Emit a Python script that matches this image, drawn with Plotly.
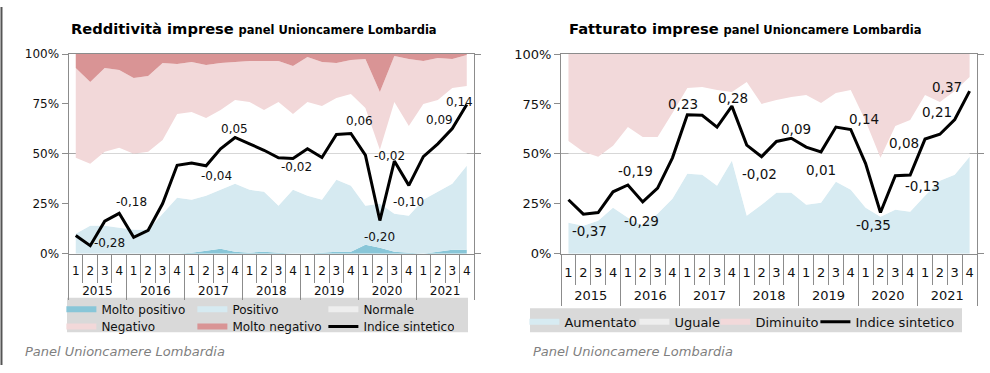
import plotly.graph_objects as go

# ---------------- DATA ----------------
years = ["2015", "2016", "2017", "2018", "2019", "2020", "2021"]
quarters = ["1", "2", "3", "4"]

# Redditività (percent shares, bottom to top)
redd_molto_pos = [0, 0, 0, 0, 0, 0, 0, 0, 0.5, 1.5, 2.5, 1, 0.5, 1, 0.5, 0, 0, 0.5, 1, 1, 4.5, 3, 1, 0.5, 0, 1, 2, 2]
redd_pos = [10, 14, 14, 13, 12, 12, 20, 28, 26.5, 27.5, 29.5, 34, 31.5, 30, 23.5, 32, 29, 26.5, 36, 33, 19.5, 22, 19, 18.5, 27, 30, 33, 42]
redd_normale = [38, 31, 37, 40, 38, 39, 37, 42, 44, 39, 40, 42, 44, 41, 52, 38, 47, 47, 41, 46, 49, 27, 56, 45, 48, 46, 48, 40]
redd_neg = [45, 41, 42, 39, 38, 38, 38.5, 25, 25, 26.5, 23.5, 19, 20.5, 24.5, 20.5, 24, 22.5, 22, 17.5, 17, 24.5, 29, 23, 33.5, 21.5, 21, 14.5, 15.5]
redd_molto_neg = [7, 14, 7, 8, 12, 11, 4.5, 5, 4, 5.5, 4.5, 4, 3.5, 3.5, 3.5, 6, 1.5, 4, 4.5, 3, 2.5, 19, 1, 2.5, 3.5, 2, 2.5, 0.5]
redd_indice = [9.1, 4, 16.3, 20.2, 8.2, 11.7, 25.1, 44.3, 45.4, 44, 52.5, 58.2, 55, 51.8, 48, 47.7,
               52.6, 48.2, 59.7, 60.2, 49.4, 16.6, 46.4, 34.2, 48.6, 55, 62.7, 74.7]
redd_lbl_idx = [1, 3, 9, 11, 15, 19, 21, 22, 23, 26, 27]
redd_lbl_txt = ["-0,28", "-0,18", "-0,04", "0,05", "-0,02", "0,06", "-0,20", "-0,02", "-0,10", "0,09", "0,14"]

# Fatturato
fatt_aum = [15.5, 14, 16.5, 23, 18, 14, 20, 27.5, 40, 39.5, 34, 46.5, 19, 24.5, 30.5, 30.5, 24.5, 25.5, 36, 32, 23, 18.5, 22, 21, 29, 36.5, 39.5, 48.5]
fatt_ugu = [41, 37, 32, 31, 45.5, 44.5, 38.5, 43, 43, 44, 48, 34.5, 67, 50.5, 46.5, 48, 55, 50, 44.5, 50, 43.5, 29.5, 42, 46, 50.5, 39.5, 42, 40]
fatt_dim = [43.5, 49, 51.5, 46, 36.5, 41.5, 41.5, 29.5, 17, 16.5, 18, 19, 14, 25, 23, 21.5, 20.5, 24.5, 19.5, 18, 33.5, 52, 36, 33, 20.5, 24, 18.5, 11.5]
fatt_indice = [27, 19.8, 20.6, 31, 34.4, 25.9, 32.8, 48, 69.6, 69.3, 63.4, 73.9, 54.4, 48.6, 56.2, 57.8,
               53.4, 51, 63.4, 62.2, 45.1, 20.6, 39, 39.4, 57.4, 59.8, 67.2, 81.4]
fatt_lbl_idx = [1, 4, 5, 8, 11, 13, 15, 17, 19, 21, 22, 23, 25, 27]
fatt_lbl_txt = ["-0,37", "-0,19", "-0,29", "0,23", "0,28", "-0,02", "0,09", "0,01", "0,14", "-0,35", "0,08", "-0,13", "0,21", "0,37"]

y_ticks = [0, 25, 50, 75, 100]
y_ticktext = ["0%", "25%", "50%", "75%", "100%"]

# ---------------- STYLE (label offsets in px) ----------------
redd_lbl_off = [(19, 3), (12, 11), (10, -10), (-1, 8), (4, -9), (9, 12), (0, -16), (-5, 5), (0, -17), (-13, 9), (-7, 3)]
fatt_lbl_off = [(6, -17), (8, 14), (-1, -19), (-4, 11), (1, 8), (-2, -17), (5, 9), (0, -18), (13, 11), (-7, -12),
                (9, 33), (12, -11), (-3, 22), (-23, 4)]

FONT = "DejaVu Sans, Verdana, sans-serif"
AX = "#8c8c8c"
nq = len(quarters)
n = len(years) * nq
x_idx = list(range(n))
q_text = [q for _ in years for q in quarters]
q_bounds = [i - 0.5 for i in range(n + 1)]
y_centers = [k * nq + (nq - 1) / 2 for k in range(len(years))]
y_bounds = [k * nq - 0.5 for k in range(len(years) + 1)]

fig = go.Figure()

def area(name, vals, color, xa, ya, group, legend):
    fig.add_trace(go.Scatter(x=x_idx, y=vals, name=name, mode="none", stackgroup=group,
                             fillcolor=color, xaxis=xa, yaxis=ya, legend=legend, hoverinfo="skip"))

# Left chart
area("Molto positivo", redd_molto_pos, "#88c6d8", "x", "y", "a", "legend")
area("Positivo", redd_pos, "#d6eaf1", "x", "y", "a", "legend")
area("Normale", redd_normale, "rgba(255,255,255,0.55)", "x", "y", "a", "legend")
area("Negativo", redd_neg, "#f2d8d9", "x", "y", "a", "legend2")
area("Molto negativo", redd_molto_neg, "#d99495", "x", "y", "a", "legend2")
fig.add_trace(go.Scatter(x=x_idx, y=redd_indice, name="Indice sintetico", mode="lines",
                         line=dict(color="black", width=3), xaxis="x3", yaxis="y3", legend="legend2"))

# Right chart
area("Aumentato", fatt_aum, "#d7ebf2", "x2", "y2", "b", "legend3")
area("Uguale", fatt_ugu, "rgba(255,255,255,0.55)", "x2", "y2", "b", "legend4")
area("Diminuito", fatt_dim, "#f2d9da", "x2", "y2", "b", "legend5")
fig.add_trace(go.Scatter(x=x_idx, y=fatt_indice, name="Indice sintetico", mode="lines",
                         line=dict(color="black", width=3), xaxis="x4", yaxis="y4", legend="legend6"))

ydom = [0.311, 0.8686]
xdom1 = [0.0692, 0.4788]
xdom2 = [0.5667, 0.9869]

def xaxis_q(dom, anchor, fs, tl, so):
    # quarter labels + quarter separators
    return dict(domain=dom, anchor=anchor, range=[-0.5, n - 0.5], tickmode="array", tickvals=x_idx,
                ticktext=q_text, ticks="", showline=True, linecolor=AX, mirror=True,
                minor=dict(tickmode="array", tickvals=q_bounds, ticks="outside", ticklen=tl, tickcolor=AX,
                           showgrid=False),
                tickfont=dict(size=fs, color="#111"), ticklabelstandoff=so, showgrid=False, zeroline=False,
                tickangle=0)

def xaxis_y(over, anchor, fs, tl, so):
    # year labels + year separators
    return dict(overlaying=over, anchor=anchor, range=[-0.5, n - 0.5], tickmode="array", tickvals=y_centers,
                ticktext=years, ticks="", showline=False,
                minor=dict(tickmode="array", tickvals=y_bounds, ticks="outside", ticklen=tl, tickcolor=AX,
                           showgrid=False),
                tickfont=dict(size=fs, color="#111"), ticklabelstandoff=so, showgrid=False, zeroline=False,
                tickangle=0)

def yaxis(dom, anchor, fs):
    return dict(domain=dom, anchor=anchor, range=[0, 100], tickvals=y_ticks, ticktext=y_ticktext,
                ticks="outside", ticklen=6, tickcolor=AX, showline=True, linecolor=AX, showgrid=False,
                zeroline=False, tickfont=dict(size=fs, color="#111"), fixedrange=True)

def yaxis_r(over, anchor):
    return dict(overlaying=over, anchor=anchor, side="right", range=[0, 100], tickvals=[0, 50, 100],
                showticklabels=False, ticks="outside", ticklen=6, tickcolor=AX, showline=True, linecolor=AX,
                showgrid=True, gridcolor="#a6a6a6", gridwidth=1, zeroline=False)

def leg(x, y, fs, ew=None):
    d = dict(orientation="h", x=x, xanchor="left", y=y, yanchor="middle",
             bgcolor="rgba(0,0,0,0)", font=dict(size=fs), traceorder="normal")
    if ew:
        d["entrywidth"] = ew
    return d

fig.update_layout(
    width=990, height=373, margin=dict(l=0, r=0, t=0, b=0),
    paper_bgcolor="white", plot_bgcolor="white",
    font=dict(family=FONT, color="#111"),
    xaxis=xaxis_q(xdom1, "y", 12, 28, 6),
    xaxis2=xaxis_q(xdom2, "y2", 13, 30, 7),
    xaxis3=xaxis_y("x", "y3", 12, 45, 28),
    xaxis4=xaxis_y("x2", "y4", 13, 51, 32),
    yaxis=yaxis(ydom, "x", 12),
    yaxis2=yaxis(ydom, "x2", 13),
    yaxis3=yaxis_r("y", "x3"),
    yaxis4=yaxis_r("y2", "x4"),
    legend=leg(0.062, 1 - 315 / 373, 12, 86),
    legend2=leg(0.062, 1 - 333 / 373, 12, 86),
    legend3=leg(524.4 / 990, 1 - 328 / 373, 13),
    legend4=leg(634.4 / 990, 1 - 328 / 373, 13),
    legend5=leg(715.4 / 990, 1 - 328 / 373, 13),
    legend6=leg(815.4 / 990, 1 - 328 / 373, 13),
    showlegend=True,
)

shapes = [
    dict(type="rect", xref="paper", yref="paper", x0=67 / 990, x1=468 / 990, y0=1 - 339 / 373, y1=1 - 303 / 373,
         fillcolor="#d9d9d9", line=dict(width=0), layer="below"),
    dict(type="rect", xref="paper", yref="paper", x0=530 / 990, x1=962 / 990, y0=1 - 339 / 373, y1=1 - 314 / 373,
         fillcolor="#d9d9d9", line=dict(width=0), layer="below"),
    dict(type="line", xref="paper", yref="paper", x0=0.0015, x1=0.0015, y0=0, y1=1,
         line=dict(color="#555555", width=2)),
]
fig.update_layout(shapes=shapes)

ann = []
for i, t, (dx, dy) in zip(redd_lbl_idx, redd_lbl_txt, redd_lbl_off):
    ann.append(dict(x=x_idx[i], xref="x3", y=redd_indice[i], yref="y3", text=t, showarrow=False,
                    xanchor="center", yanchor="middle", xshift=dx, yshift=dy, font=dict(size=12, color="#111")))
for i, t, (dx, dy) in zip(fatt_lbl_idx, fatt_lbl_txt, fatt_lbl_off):
    ann.append(dict(x=x_idx[i], xref="x4", y=fatt_indice[i], yref="y4", text=t, showarrow=False,
                    xanchor="center", yanchor="middle", xshift=dx, yshift=dy, font=dict(size=13.5, color="#111")))

ann += [
    dict(x=253.7 / 990, y=1 - 22 / 373, xref="paper", yref="paper", xanchor="center", yanchor="middle",
         showarrow=False,
         text="<b>Redditività imprese</b> <b><span style='font-size:11.5px'>panel Unioncamere Lombardia</span></b>",
         font=dict(size=14.7, color="black")),
    dict(x=745.5 / 990, y=1 - 22 / 373, xref="paper", yref="paper", xanchor="center", yanchor="middle",
         showarrow=False,
         text="<b>Fatturato imprese</b> <b><span style='font-size:11.5px'>panel Unioncamere Lombardia</span></b>",
         font=dict(size=14.7, color="black")),
    dict(x=23 / 990, y=1 - 359 / 373, xref="paper", yref="paper", xanchor="left", yanchor="middle",
         showarrow=False, text="<i>Panel Unioncamere Lombardia</i>", font=dict(size=13, color="#7f7f7f")),
    dict(x=531 / 990, y=1 - 359 / 373, xref="paper", yref="paper", xanchor="left", yanchor="middle",
         showarrow=False, text="<i>Panel Unioncamere Lombardia</i>", font=dict(size=13, color="#7f7f7f")),
]
fig.update_layout(annotations=ann)

fig.write_html("out.html", config={"displayModeBar": False},
               post_script="document.body.style.margin='0px';document.body.style.overflow='hidden';")
